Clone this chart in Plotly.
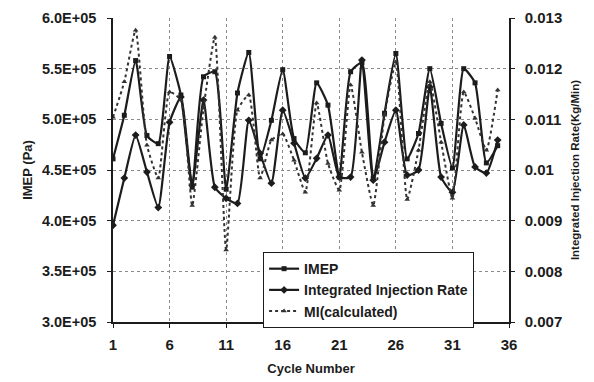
import plotly.graph_objects as go

cycles = list(range(1, 36))

imep = [4.61e5, 5.04e5, 5.58e5, 4.84e5, 4.76e5, 5.62e5, 5.24e5, 4.33e5, 5.42e5, 5.47e5,
        4.31e5, 5.26e5, 5.66e5, 4.61e5, 4.99e5, 5.49e5, 4.81e5, 4.67e5, 5.36e5, 5.14e5,
        4.43e5, 5.47e5, 5.56e5, 4.42e5, 5.06e5, 5.65e5, 4.61e5, 4.86e5, 5.50e5, 4.96e5,
        4.52e5, 5.50e5, 5.36e5, 4.57e5, 4.74e5]

injection_rate = [0.00891, 0.00984, 0.01069, 0.00996, 0.00926, 0.01094, 0.01144, 0.00970, 0.01138, 0.00966,
                  0.00944, 0.00934, 0.01098, 0.01033, 0.00974, 0.01118, 0.01053, 0.00984, 0.01023, 0.01069,
                  0.00986, 0.00986, 0.01217, 0.00980, 0.01055, 0.01118, 0.00990, 0.01000, 0.01164, 0.00986,
                  0.00956, 0.01089, 0.01006, 0.00994, 0.01059]

mi_calculated = [0.01104, 0.01174, 0.01276, 0.01049, 0.00984, 0.01154, 0.01138, 0.00930, 0.01122, 0.01262,
                 0.00842, 0.01118, 0.01148, 0.00984, 0.01059, 0.01071, 0.01019, 0.00956, 0.01132, 0.01013,
                 0.00960, 0.01168, 0.01035, 0.00930, 0.01108, 0.01213, 0.00942, 0.01039, 0.01174, 0.01055,
                 0.00944, 0.01154, 0.01102, 0.01039, 0.01158]

x_ticks = [1, 6, 11, 16, 21, 26, 31, 36]
left_ticks = [3.0e5, 3.5e5, 4.0e5, 4.5e5, 5.0e5, 5.5e5, 6.0e5]
left_tick_text = ["3.0E+05", "3.5E+05", "4.0E+05", "4.5E+05", "5.0E+05", "5.5E+05", "6.0E+05"]
right_ticks = [0.007, 0.008, 0.009, 0.010, 0.011, 0.012, 0.013]
right_tick_text = ["0.007", "0.008", "0.009", "0.01", "0.011", "0.012", "0.013"]

INK = "#1c1c1c"
GRID = "#8a8a8a"
FAMILY = "Liberation Sans, Arial, sans-serif"


def bold(size):
    return dict(family=FAMILY, size=size, color=INK, weight="bold")


fig = go.Figure()

fig.add_trace(go.Scatter(
    x=cycles, y=imep, name="IMEP", mode="lines+markers",
    line=dict(color=INK, width=2.2, shape="spline", smoothing=0.5),
    marker=dict(symbol="square", size=5, color=INK),
))
fig.add_trace(go.Scatter(
    x=cycles, y=injection_rate, name="Integrated Injection Rate", mode="lines+markers",
    yaxis="y2",
    line=dict(color=INK, width=2.2, shape="spline", smoothing=0.5),
    marker=dict(symbol="diamond", size=6, color=INK),
))
fig.add_trace(go.Scatter(
    x=cycles, y=mi_calculated, name="MI(calculated)", mode="lines+markers",
    yaxis="y2",
    line=dict(color="#333333", width=2, dash="dot", shape="spline", smoothing=0.5),
    marker=dict(symbol="triangle-up", size=5, color="#333333"),
))

fig.update_layout(
    width=594, height=382,
    margin=dict(l=113, r=85, t=18, b=60, autoexpand=False),
    paper_bgcolor="white", plot_bgcolor="white",
    font=bold(12),
    showlegend=True,
    legend=dict(
        x=0.379, y=0.23, xanchor="left", yanchor="top",
        bgcolor="white", bordercolor=INK, borderwidth=1,
        font=bold(14),
        tracegroupgap=0, itemwidth=30,
    ),
    xaxis=dict(
        range=[1, 36], tickmode="array", tickvals=x_ticks,
        automargin=False,
        showgrid=True, gridcolor=GRID, griddash="dot", gridwidth=1,
        showline=True, linecolor=INK, linewidth=1.5,
        ticks="outside", ticklen=4, tickcolor=INK,
        ticklabelstandoff=4,
        title=dict(text="Cycle Number", font=bold(13), standoff=12),
        tickfont=bold(15),
        zeroline=False,
    ),
    yaxis=dict(
        range=[3.0e5, 6.0e5], tickmode="array", tickvals=left_ticks, ticktext=left_tick_text,
        automargin=False,
        showgrid=True, gridcolor=GRID, griddash="dot", gridwidth=1,
        showline=True, linecolor=INK, linewidth=1.5,
        ticks="outside", ticklen=4, tickcolor=INK,
        ticklabelstandoff=8,
        title=dict(text="IMEP (Pa)", font=bold(13), standoff=6),
        tickfont=bold(14.5),
        zeroline=False,
    ),
    yaxis2=dict(
        range=[0.007, 0.013], overlaying="y", side="right",
        tickmode="array", tickvals=right_ticks, ticktext=right_tick_text,
        automargin=False,
        showgrid=False,
        showline=True, linecolor=INK, linewidth=1.5,
        ticks="outside", ticklen=4, tickcolor=INK,
        ticklabelstandoff=7,
        title=dict(text="Integrated Injection Rate(Kg/Min)", font=bold(11.5), standoff=10),
        tickfont=bold(15),
        zeroline=False,
    ),
)

fig.write_html("out.html")
